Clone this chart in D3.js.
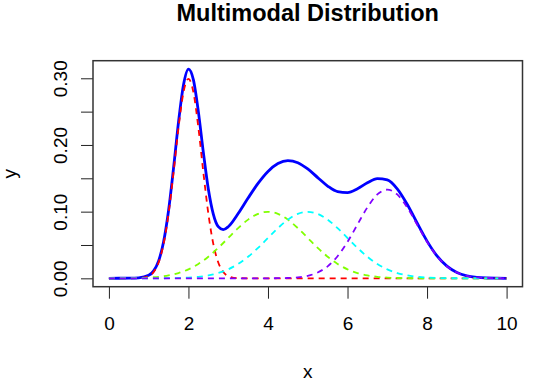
<!DOCTYPE html>
<html>
<head>
<meta charset="utf-8">
<script src="https://cdn.jsdelivr.net/npm/d3@7"></script>
<style>
  body { margin: 0; background: #fff; }
  svg text { font-family: "Liberation Sans", Arial, sans-serif; fill: #000; }
</style>
</head>
<body>
<svg id="chart" width="534" height="390"></svg>
<script>
// x positions of the sampled curve
var xs = [0, 0.25, 0.5, 0.75, 1, 1.125, 1.25, 1.375, 1.5, 1.625, 1.75, 1.875, 2, 2.125, 2.25, 2.375,
  2.5, 2.625, 2.75, 2.875, 3, 3.25, 3.5, 3.75, 4, 4.25, 4.5, 4.75, 5, 5.25, 5.5, 5.75, 6, 6.25, 6.5,
  6.75, 7, 7.25, 7.5, 7.75, 8, 8.25, 8.5, 8.75, 9, 9.25, 9.5, 9.75, 10]

// mixture total (solid blue)
var total = [0.00003, 0.00009, 0.00023, 0.00078, 0.00446, 0.01120, 0.02616, 0.05490, 0.10174, 0.16518,
  0.23425, 0.29009, 0.31382, 0.29769, 0.24964, 0.18872, 0.13390, 0.09628, 0.07740, 0.07295, 0.07731,
  0.09711, 0.12041, 0.14234, 0.16027, 0.17211, 0.17655, 0.17343, 0.16403, 0.15107, 0.13840, 0.13001,
  0.12866, 0.13426, 0.14324, 0.14963, 0.14759, 0.13424, 0.11108, 0.08302, 0.05581, 0.03368, 0.01822,
  0.00883, 0.00383, 0.00149, 0.00051, 0.00016, 0.00004]

// components (dashed)
var comp1 = [0, 0, 0.00001, 0.00026, 0.00332, 0.00955, 0.02380, 0.05158, 0.09714, 0.15890, 0.22580,
  0.27890, 0.29921, 0.27890, 0.22580, 0.15890, 0.09714, 0.05158, 0.02380, 0.00955, 0.00332, 0.00026,
  0.00001, 0, 0, 0, 0, 0, 0, 0, 0, 0, 0, 0, 0, 0, 0, 0, 0, 0, 0, 0, 0, 0, 0, 0, 0, 0, 0]
var comp2 = [0.00003, 0.00009, 0.00022, 0.00051, 0.00111, 0.00160, 0.00227, 0.00318, 0.00438, 0.00594,
  0.00794, 0.01043, 0.01350, 0.01719, 0.02157, 0.02664, 0.03238, 0.03876, 0.04566, 0.05297, 0.06049,
  0.07528, 0.08802, 0.09667, 0.09974, 0.09667, 0.08802, 0.07528, 0.06049, 0.04566, 0.03238, 0.02157,
  0.01350, 0.00794, 0.00438, 0.00227, 0.00111, 0.00051, 0.00022, 0.00009, 0.00003, 0.00001, 0, 0, 0,
  0, 0, 0, 0]
var comp3 = [0, 0, 0, 0.00001, 0.00003, 0.00005, 0.00009, 0.00014, 0.00022, 0.00034, 0.00051, 0.00076,
  0.00111, 0.00160, 0.00227, 0.00318, 0.00438, 0.00594, 0.00794, 0.01043, 0.01350, 0.02157, 0.03238,
  0.04566, 0.06049, 0.07528, 0.08802, 0.09667, 0.09974, 0.09667, 0.08802, 0.07528, 0.06049, 0.04566,
  0.03238, 0.02157, 0.01350, 0.00794, 0.00438, 0.00227, 0.00111, 0.00051, 0.00022, 0.00009, 0.00003,
  0.00001, 0, 0, 0]
var comp4 = [0, 0, 0, 0, 0, 0, 0, 0, 0, 0, 0, 0, 0, 0, 0, 0, 0, 0, 0, 0, 0, 0, 0, 0.00001, 0.00004,
  0.00016, 0.00051, 0.00148, 0.00380, 0.00874, 0.01800, 0.03316, 0.05467, 0.08066, 0.10648, 0.12579,
  0.13298, 0.12579, 0.10648, 0.08066, 0.05467, 0.03316, 0.01800, 0.00874, 0.00380, 0.00148, 0.00051,
  0.00016, 0.00004]

var compColors = ['#ff0000', '#80ff00', '#00ffff', '#8000ff']
var xTicks = [0, 2, 4, 6, 8, 10]
var yTicks = [0, 0.05, 0.10, 0.15, 0.20, 0.25, 0.30]
var yLabels = [0, 0.10, 0.20, 0.30]

var box = { left: 93, right: 522.5, top: 60.7, bottom: 286.7 }

function drawChart() {
    var svg = d3.select('#chart')

    // R style 4% padding around the data range
    var xPad = (d3.max(xs) - d3.min(xs)) * 0.04
    var yMax = d3.max(total)
    var yPad = yMax * 0.04

    var xScale = d3.scaleLinear()
        .domain([d3.min(xs) - xPad, d3.max(xs) + xPad])
        .range([box.left, box.right])
    var yScale = d3.scaleLinear()
        .domain([0 - yPad, yMax + yPad])
        .range([box.bottom, box.top])

    var line = d3.line()
        .x(function (d) { return xScale(d[0]) })
        .y(function (d) { return yScale(d[1]) })
        .curve(d3.curveMonotoneX)

    // total curve
    svg.append('path')
        .datum(d3.zip(xs, total))
        .attr('fill', 'none')
        .attr('stroke', '#0000ff')
        .attr('stroke-width', 2.8)
        .attr('d', line)

    // dashed components on top
    var comps = [comp1, comp2, comp3, comp4]
    comps.forEach(function (c, i) {
        svg.append('path')
            .datum(d3.zip(xs, c))
            .attr('fill', 'none')
            .attr('stroke', compColors[i])
            .attr('stroke-width', 1.8)
            .attr('stroke-dasharray', '6,5')
            .attr('d', line)
    })

    // x axis
    var xAxis = d3.axisBottom(xScale).tickValues(xTicks).tickSize(12).tickPadding(18)
        .tickFormat(d3.format('d'))
    var gx = svg.append('g')
        .attr('transform', 'translate(0,' + box.bottom + ')')
        .call(xAxis)
    gx.select('.domain').remove()
    gx.selectAll('line').attr('stroke', '#222')
    gx.selectAll('text').attr('font-size', 19).attr('fill', '#000')

    // y axis, labels only every other tick
    var yAxis = d3.axisLeft(yScale).tickValues(yTicks).tickSize(12)
        .tickFormat(function (d) {
            return yLabels.some(function (v) { return Math.abs(v - d) < 1e-9 }) ? d3.format('.2f')(d) : ''
        })
    var gy = svg.append('g')
        .attr('transform', 'translate(' + box.left + ',0)')
        .call(yAxis)
    gy.select('.domain').remove()
    gy.selectAll('line').attr('stroke', '#222')
    gy.selectAll('text')
        .attr('font-size', 19)
        .attr('fill', '#000')
        .attr('x', 0)
        .attr('dy', 0)
        .attr('text-anchor', 'middle')
        .attr('transform', 'translate(-26.5,0) rotate(-90)')

    // plot frame
    svg.append('rect')
        .attr('x', box.left)
        .attr('y', box.top)
        .attr('width', box.right - box.left)
        .attr('height', box.bottom - box.top)
        .attr('fill', 'none')
        .attr('stroke', '#333')
        .attr('stroke-width', 1.5)

    // titles
    svg.append('text')
        .attr('x', (box.left + box.right) / 2)
        .attr('y', 21)
        .attr('text-anchor', 'middle')
        .attr('font-size', 23.5)
        .attr('font-weight', 'bold')
        .text('Multimodal Distribution')
    svg.append('text')
        .attr('x', (box.left + box.right) / 2)
        .attr('y', 378)
        .attr('text-anchor', 'middle')
        .attr('font-size', 19)
        .text('x')
    svg.append('text')
        .attr('transform', 'translate(16,' + ((box.top + box.bottom) / 2) + ') rotate(-90)')
        .attr('text-anchor', 'middle')
        .attr('font-size', 19)
        .text('y')
}

drawChart()
</script>
</body>
</html>
